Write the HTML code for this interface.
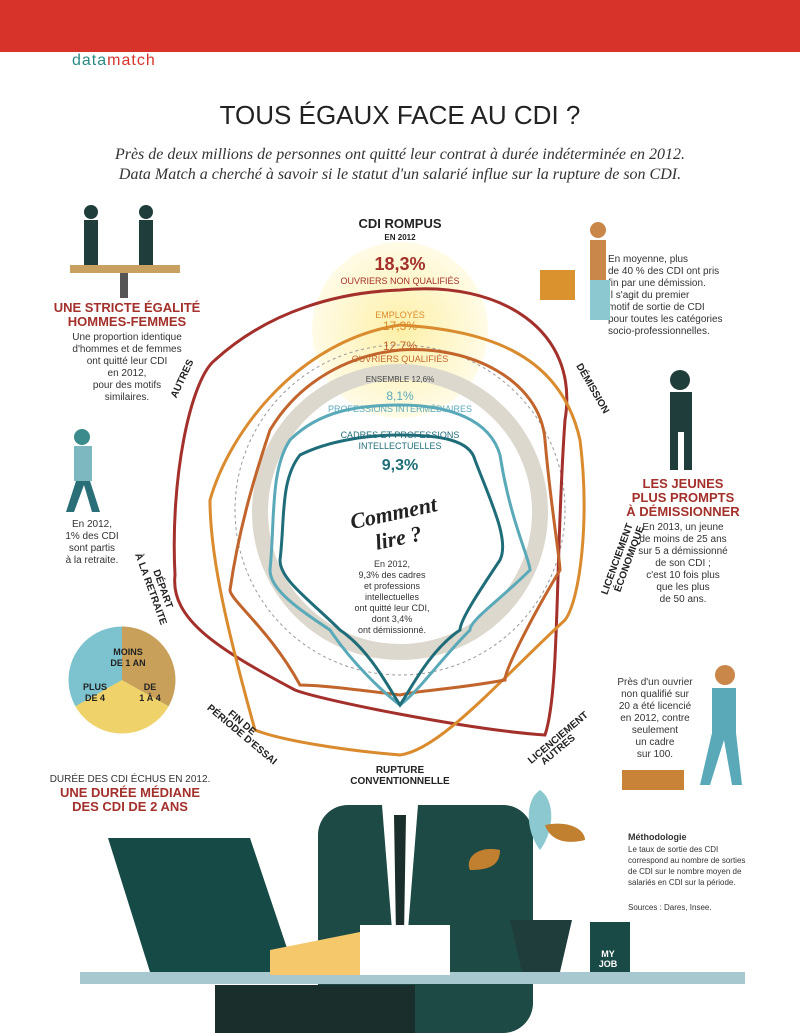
<!DOCTYPE html>
<html><head><meta charset="utf-8">
<style>
body{margin:0;width:800px;height:1033px;overflow:hidden;background:#fff;font-family:"Liberation Sans",sans-serif;position:relative}
.a{position:absolute}
</style></head><body>
<div class="a" style="left:0;top:0;width:800px;height:52px;background:#d8332b"></div>
<div class="a" style="left:72px;top:52px;font-size:16px;letter-spacing:1px;color:#2a8a86">data<span style="color:#d8332b">match</span></div>
<div class="a" style="left:0;top:100px;width:800px;text-align:center;font-size:26px;color:#222">TOUS ÉGAUX FACE AU CDI ?</div>
<div class="a" style="left:0;top:145px;width:800px;text-align:center;font-family:'Liberation Serif',serif;font-style:italic;font-size:16px;line-height:20px;color:#333">Près de deux millions de personnes ont quitté leur contrat à durée indéterminée en 2012.<br>Data Match a cherché à savoir si le statut d'un salarié influe sur la rupture de son CDI.</div>

<svg class="a" style="left:0;top:0" width="800" height="1033" font-family="Liberation Sans, sans-serif">
<defs><radialGradient id="y"><stop offset="0" stop-color="#fdf0a8"/><stop offset="1" stop-color="#fffbe6"/></radialGradient></defs>
<circle cx="400" cy="330" r="88" fill="url(#y)"/>
<circle cx="400" cy="510" r="165" fill="none" stroke="#999" stroke-dasharray="3 3" stroke-width="1"/>
<circle cx="400" cy="512" r="140" fill="none" stroke="#dcd8ce" stroke-width="16"/>
<g fill="none" stroke-width="3">
<path d="M400 290 C500 280 580 330 565 420 C555 560 560 690 545 735 C470 730 320 700 295 690 C220 650 170 620 175 575 C170 480 190 380 215 360 C270 310 340 292 400 290Z" stroke="#a3302b"/>
<path d="M400 325 C480 330 560 350 580 440 C590 520 580 600 565 620 C500 680 440 750 400 755 C340 750 280 740 255 730 C230 640 210 560 210 500 C230 430 300 340 400 325Z" stroke="#d98b2e"/>
<path d="M400 350 C470 345 540 380 545 440 C550 500 560 560 560 570 C530 620 505 670 505 680 C450 690 420 690 400 695 C360 690 320 685 300 685 C270 630 230 600 230 590 C240 520 260 460 270 430 C300 380 350 355 400 350Z" stroke="#c2652c"/>
<path d="M400 405 C450 405 490 420 500 455 C510 520 530 560 530 570 C500 600 470 620 470 630 C440 660 420 690 400 705 C380 690 350 660 330 630 C300 610 270 590 270 570 C275 520 270 470 290 440 C320 410 360 405 400 405Z" stroke="#5aa9b9"/>
<path d="M400 435 C440 435 470 440 475 460 C490 500 510 540 500 560 C480 590 460 620 460 630 C430 650 410 690 400 705 C390 690 370 650 340 630 C310 600 280 580 280 560 C285 520 280 480 300 455 C330 440 370 435 400 435Z" stroke="#1f6d79"/>
</g>
<g font-size="9" fill="#a3302b">
<text x="400" y="228" text-anchor="middle" font-weight="bold" font-size="13" fill="#222">CDI ROMPUS</text>
<text x="400" y="240" text-anchor="middle" font-weight="bold" font-size="8" fill="#222">EN 2012</text>
<text x="400" y="270" text-anchor="middle" font-weight="bold" font-size="18">18,3%</text>
<text x="400" y="284" text-anchor="middle">OUVRIERS NON QUALIFIÉS</text>
<text x="400" y="318" text-anchor="middle" fill="#d98b2e">EMPLOYÉS</text>
<text x="400" y="330" text-anchor="middle" fill="#d98b2e" font-size="12">17,3%</text>
<text x="400" y="350" text-anchor="middle" fill="#c2652c" font-size="12">12,7%</text>
<text x="400" y="362" text-anchor="middle" fill="#c2652c">OUVRIERS QUALIFIÉS</text>
<text x="400" y="382" text-anchor="middle" fill="#444" font-size="8">ENSEMBLE 12,6%</text>
<text x="400" y="400" text-anchor="middle" fill="#5aa9b9" font-size="12">8,1%</text>
<text x="400" y="412" text-anchor="middle" fill="#5aa9b9">PROFESSIONS INTERMÉDIAIRES</text>
<text x="400" y="438" text-anchor="middle" fill="#1f6d79">CADRES ET PROFESSIONS</text>
<text x="400" y="449" text-anchor="middle" fill="#1f6d79">INTELLECTUELLES</text>
<text x="400" y="470" text-anchor="middle" fill="#1f6d79" font-size="16" font-weight="bold">9,3%</text>
</g>
<text x="395" y="520" font-family="Liberation Serif,serif" font-style="italic" font-weight="bold" font-size="22" fill="#222" transform="rotate(-12 395 520)" text-anchor="middle">Comment</text>
<text x="400" y="545" font-family="Liberation Serif,serif" font-style="italic" font-weight="bold" font-size="22" fill="#222" transform="rotate(-12 400 545)" text-anchor="middle">lire ?</text>
<g font-size="9" fill="#333" text-anchor="middle">
<text x="392" y="567">En 2012,</text><text x="392" y="578">9,3% des cadres</text><text x="392" y="589">et professions</text><text x="392" y="600">intellectuelles</text><text x="392" y="611">ont quitté leur CDI,</text><text x="392" y="622">dont 3,4%</text><text x="392" y="633">ont démissionné.</text>
</g>
<g font-size="10" font-weight="bold" fill="#222" text-anchor="middle">
<text x="400" y="773">RUPTURE</text><text x="400" y="784">CONVENTIONNELLE</text>
<text x="240" y="725" transform="rotate(40 240 725)">FIN DE</text><text x="240" y="737" transform="rotate(40 240 737)">PÉRIODE D'ESSAI</text>
<text x="560" y="740" transform="rotate(-40 560 740)">LICENCIEMENT</text><text x="560" y="752" transform="rotate(-40 560 752)">AUTRES</text>
<text x="620" y="560" transform="rotate(-70 620 560)">LICENCIEMENT</text><text x="632" y="560" transform="rotate(-70 632 560)">ÉCONOMIQUE</text>
<text x="590" y="390" transform="rotate(60 590 390)">DÉMISSION</text>
<text x="160" y="590" transform="rotate(70 160 590)">DÉPART</text><text x="148" y="590" transform="rotate(70 148 590)">À LA RETRAITE</text>
<text x="185" y="380" transform="rotate(-65 185 380)">AUTRES</text>
</g>
<g text-anchor="middle">
<text x="127" y="312" font-size="13" font-weight="bold" fill="#a3302b">UNE STRICTE ÉGALITÉ</text>
<text x="127" y="326" font-size="13" font-weight="bold" fill="#a3302b">HOMMES-FEMMES</text>
<g font-size="10" fill="#333"><text x="127" y="340">Une proportion identique</text><text x="127" y="352">d'hommes et de femmes</text><text x="127" y="364">ont quitté leur CDI</text><text x="127" y="376">en 2012,</text><text x="127" y="388">pour des motifs</text><text x="127" y="400">similaires.</text>
<text x="92" y="527">En 2012,</text><text x="92" y="539">1% des CDI</text><text x="92" y="551">sont partis</text><text x="92" y="563">à la retraite.</text>
<text x="130" y="782">DURÉE DES CDI ÉCHUS EN 2012.</text></g>
<text x="130" y="797" font-size="13" font-weight="bold" fill="#a3302b">UNE DURÉE MÉDIANE</text>
<text x="130" y="811" font-size="13" font-weight="bold" fill="#a3302b">DES CDI DE 2 ANS</text>
<text x="683" y="488" font-size="13" font-weight="bold" fill="#a3302b">LES JEUNES</text>
<text x="683" y="502" font-size="13" font-weight="bold" fill="#a3302b">PLUS PROMPTS</text>
<text x="683" y="516" font-size="13" font-weight="bold" fill="#a3302b">À DÉMISSIONNER</text>
<g font-size="10" fill="#333"><text x="683" y="530">En 2013, un jeune</text><text x="683" y="542">de moins de 25 ans</text><text x="683" y="554">sur 5 a démissionné</text><text x="683" y="566">de son CDI ;</text><text x="683" y="578">c'est 10 fois plus</text><text x="683" y="590">que les plus</text><text x="683" y="602">de 50 ans.</text>
<text x="655" y="685">Près d'un ouvrier</text><text x="655" y="697">non qualifié sur</text><text x="655" y="709">20 a été licencié</text><text x="655" y="721">en 2012, contre</text><text x="655" y="733">seulement</text><text x="655" y="745">un cadre</text><text x="655" y="757">sur 100.</text></g>
</g>
<g font-size="10" fill="#333"><text x="608" y="262">En moyenne, plus</text><text x="608" y="274">de 40 % des CDI ont pris</text><text x="608" y="286">fin par une démission.</text><text x="608" y="298">Il s'agit du premier</text><text x="608" y="310">motif de sortie de CDI</text><text x="608" y="322">pour toutes les catégories</text><text x="608" y="334">socio-professionnelles.</text></g>
<!-- figures -->
<g fill="#1f3d3a"><circle cx="91" cy="212" r="7"/><rect x="84" y="220" width="14" height="45"/><circle cx="146" cy="212" r="7"/><rect x="139" y="220" width="14" height="45"/></g>
<rect x="70" y="265" width="110" height="8" fill="#c8a060"/><rect x="120" y="273" width="8" height="25" fill="#555"/>
<g fill="#3b8a8c"><circle cx="82" cy="437" r="8"/><rect x="74" y="446" width="18" height="35" fill="#7db8c0"/><path d="M76 481 L66 512 L74 512 L84 485 L92 512 L100 512 L90 481Z" fill="#2a6e78"/></g>
<path d="M540 270 L575 270 L575 300 L540 300Z" fill="#d9922e"/><rect x="590" y="240" width="16" height="40" fill="#c9874a"/><rect x="590" y="280" width="20" height="40" fill="#8cc8d0"/><circle cx="598" cy="230" r="8" fill="#c9874a"/>
<g fill="#1f3d3a"><circle cx="680" cy="380" r="10"/><rect x="670" y="392" width="22" height="40"/><rect x="670" y="432" width="8" height="38"/><rect x="684" y="432" width="8" height="38"/></g>
<g><circle cx="725" cy="675" r="10" fill="#c9874a"/><rect x="712" y="688" width="24" height="45" fill="#5aa9b9"/><path d="M712 733 L700 785 L710 785 L724 740 L732 785 L742 785 L736 733Z" fill="#5aa9b9"/></g>
<rect x="622" y="770" width="62" height="20" fill="#c98338"/>
<circle cx="122" cy="680" r="55" fill="#7cc3cf"/>
<path d="M122 680 L122 625 A55 55 0 0 1 170 707Z" fill="#c9a05a"/><path d="M122 680 L170 707 A55 55 0 0 1 74 707Z" fill="#efd36a"/>
<circle cx="122" cy="680" r="55" fill="none" stroke="#fff" stroke-width="3"/>
<g font-size="9" font-weight="bold" fill="#222" text-anchor="middle"><text x="128" y="655">MOINS</text><text x="128" y="666">DE 1 AN</text><text x="95" y="690">PLUS</text><text x="95" y="701">DE 4</text><text x="150" y="690">DE</text><text x="150" y="701">1 À 4</text></g>
<!-- desk scene -->
<rect x="318" y="805" width="215" height="228" fill="#1d4a44" rx="30"/>
<path d="M382 805 L418 805 L408 930 L400 950 L392 930Z" fill="#fff"/><path d="M394 815 L406 815 L404 935 L400 945 L396 935Z" fill="#1a2e2c"/>
<rect x="80" y="972" width="665" height="12" fill="#a8c8cf"/>
<path d="M108 838 L250 838 L295 972 L150 972Z" fill="#164a47"/>
<path d="M270 950 L370 930 L375 975 L270 975Z" fill="#f5c96b"/><rect x="360" y="925" width="90" height="50" fill="#fff"/>
<rect x="215" y="985" width="200" height="48" fill="#1a2e2c"/>
<path d="M510 920 L572 920 L560 972 L522 972Z" fill="#1f3d3a"/>
<path d="M540 790 C555 800 555 830 540 850 C525 830 525 800 540 790Z" fill="#8cc8d0"/>
<path d="M545 825 C570 820 585 830 585 840 C565 845 550 840 545 825Z" fill="#c08030"/>
<path d="M500 850 C475 845 465 860 470 870 C490 870 500 865 500 850Z" fill="#c08030"/>
<rect x="590" y="922" width="40" height="50" fill="#1a4a46"/>
<text x="608" y="957" font-size="9" fill="#fff" font-weight="bold" text-anchor="middle">MY</text><text x="608" y="967" font-size="9" fill="#fff" font-weight="bold" text-anchor="middle">JOB</text>
<g font-size="8" fill="#333"><text x="628" y="840" font-size="9" font-weight="bold">Méthodologie</text><text x="628" y="852">Le taux de sortie des CDI</text><text x="628" y="863">correspond au nombre de sorties</text><text x="628" y="874">de CDI sur le nombre moyen de</text><text x="628" y="885">salariés en CDI sur la période.</text><text x="628" y="910">Sources : Dares, Insee.</text></g>
</svg>
</body></html>
